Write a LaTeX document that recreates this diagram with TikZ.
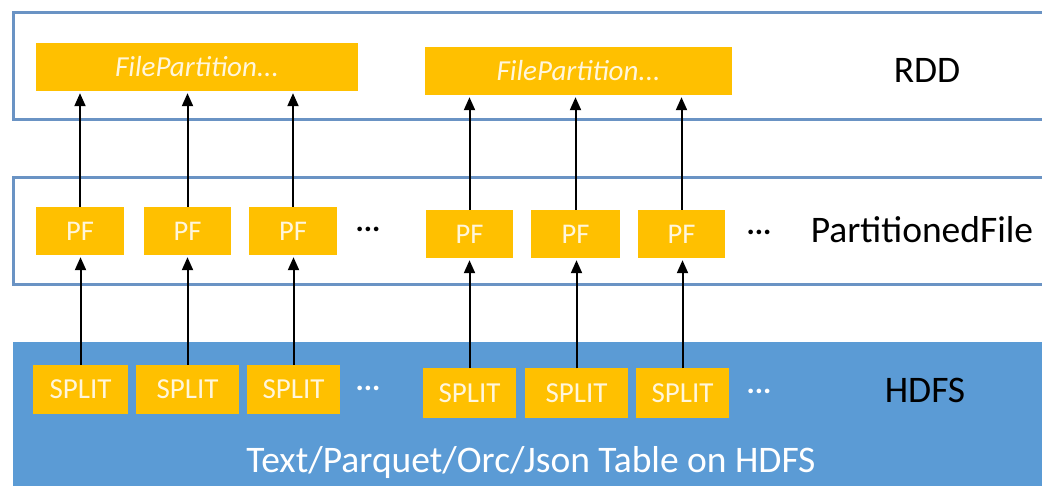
\documentclass[tikz,border=0pt]{standalone}
\usepackage{fontspec}
\setmainfont{Carlito}
\usetikzlibrary{arrows.meta}
\definecolor{gold}{HTML}{FFC000}
\definecolor{bandline}{HTML}{6A93C4}
\definecolor{hdfsblue}{HTML}{5B9BD5}
\definecolor{boxtext}{HTML}{FFF6DC}
\tikzset{
  ybox/.style={fill=gold, draw=none, inner sep=0pt, text=boxtext, font=\fontsize{28.5}{30}\selectfont},
  fpbox/.style={ybox, minimum height=48pt, font=\fontsize{29}{31}\selectfont\itshape},
  pfbox/.style={ybox, minimum height=48pt},
  splitbox/.style={ybox, minimum height=49pt, font=\fontsize{29}{31}\selectfont},
  band/.style={draw=bandline, line width=3pt},
  lbl/.style={font=\fontsize{37.5}{40}\selectfont, text=black},
  dots/.style={font=\fontsize{31}{33}\selectfont\bfseries},
  arr/.style={line width=2pt, -{Triangle[length=13pt,width=11pt]}, shorten >=2pt}
}
\begin{document}
\begin{tikzpicture}[x=1pt,y=-1pt]
\clip (0,0) rectangle (1042,486);
\fill[white] (0,0) rectangle (1042,486);
% bands
\draw[band] (13.5,13) rectangle (1060,119.5);
\draw[band] (13.5,177.5) rectangle (1060,284.5);
\fill[hdfsblue] (13,342) rectangle (1060,500);
% RDD level
\node[fpbox, minimum width=322pt] (fp1) at (197,67) {FilePartition...};
\node[fpbox, minimum width=307pt] (fp2) at (578.5,71) {FilePartition...};
\node[lbl] (rdd) at (927,70) {RDD};
% PF level
\node[pfbox, minimum width=88pt] (p1) at (80,231) {PF};
\node[pfbox, minimum width=87pt] (p2) at (187.5,231) {PF};
\node[pfbox, minimum width=88pt] (p3) at (293,231) {PF};
\node[dots] (d1) at (368,229) {...};
\node[pfbox, minimum width=87pt] (p4) at (469.5,234) {PF};
\node[pfbox, minimum width=89pt] (p5) at (575.5,234) {PF};
\node[pfbox, minimum width=87pt] (p6) at (681.5,234) {PF};
\node[dots] (d2) at (759,232) {...};
\node[lbl] (pfile) at (922,230) {PartitionedFile};
% SPLIT level
\node[splitbox, minimum width=95pt] (s1) at (80.5,389.5) {SPLIT};
\node[splitbox, minimum width=103pt] (s2) at (187.5,389.5) {SPLIT};
\node[splitbox, minimum width=93pt] (s3) at (293.5,389.5) {SPLIT};
\node[dots, text=white] (d3) at (368,388) {...};
\node[splitbox, minimum width=93pt] (s4) at (469.5,393) {SPLIT};
\node[splitbox, minimum width=103pt] (s5) at (576.5,393) {SPLIT};
\node[splitbox, minimum width=93pt] (s6) at (682.5,393) {SPLIT};
\node[dots, text=white] (d4) at (759,391) {...};
\node[lbl] (hdfs) at (925,390) {HDFS};
\node[lbl, text=white] (tbl) at (531,463) {Text/Parquet/Orc/Json Table on HDFS};
% arrows split -> pf
\draw[arr] (s1.north) -- (s1.north |- p1.south);
\draw[arr] (s2.north) -- (s2.north |- p2.south);
\draw[arr] (s3.north) -- (s3.north |- p3.south);
\draw[arr] (s4.north) -- (s4.north |- p4.south);
\draw[arr] (s5.north) -- (s5.north |- p5.south);
\draw[arr] (s6.north) -- (s6.north |- p6.south);
% arrows pf -> fp
\draw[arr] (p1.north) -- (p1.north |- fp1.south);
\draw[arr] (p2.north) -- (p2.north |- fp1.south);
\draw[arr] (p3.north) -- (p3.north |- fp1.south);
\draw[arr] (p4.north) -- (p4.north |- fp2.south);
\draw[arr] (p5.north) -- (p5.north |- fp2.south);
\draw[arr] (p6.north) -- (p6.north |- fp2.south);
\end{tikzpicture}
\end{document}
